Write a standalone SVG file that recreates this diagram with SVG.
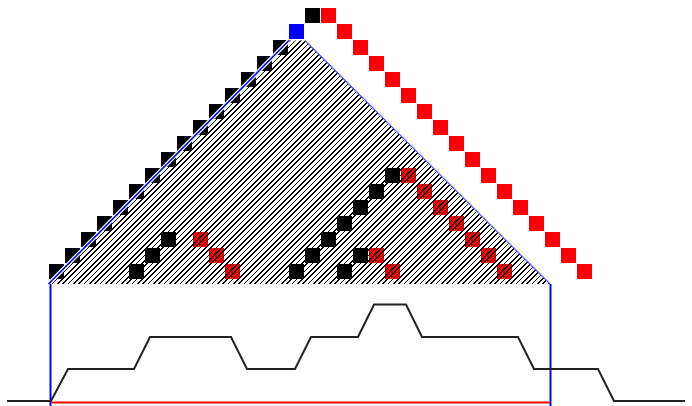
<svg xmlns="http://www.w3.org/2000/svg" width="692" height="406" viewBox="0 0 692 406">
<defs>
<pattern id="hatch" patternUnits="userSpaceOnUse" x="0" y="0" width="16" height="16">
<path d="M-16,16 L0,0 M-10.67,16 L5.33,0 M-5.33,16 L10.67,0 M0,16 L16,0 M5.33,16 L21.33,0 M10.67,16 L26.67,0" stroke="#000" stroke-width="1.1" shape-rendering="crispEdges" fill="none"/>
</pattern>
<style>
.b{fill:#000}.r{fill:#f00}.u{fill:#00f}
</style>
</defs>
<rect width="692" height="406" fill="#fff"/>
<g id="cells" transform="translate(49,8)">
<rect class="b" x="256" y="0" width="15" height="15"/>
<rect class="u" x="240" y="16" width="15" height="15"/>
<g id="red-diag">
<rect class="r" x="272" y="0" width="15" height="15"/>
<rect class="r" x="288" y="16" width="15" height="15"/>
<rect class="r" x="304" y="32" width="15" height="15"/>
<rect class="r" x="320" y="48" width="15" height="15"/>
<rect class="r" x="336" y="64" width="15" height="15"/>
<rect class="r" x="352" y="80" width="15" height="15"/>
<rect class="r" x="368" y="96" width="15" height="15"/>
<rect class="r" x="384" y="112" width="15" height="15"/>
<rect class="r" x="400" y="128" width="15" height="15"/>
<rect class="r" x="416" y="144" width="15" height="15"/>
<rect class="r" x="432" y="160" width="15" height="15"/>
<rect class="r" x="448" y="176" width="15" height="15"/>
<rect class="r" x="464" y="192" width="15" height="15"/>
<rect class="r" x="480" y="208" width="15" height="15"/>
<rect class="r" x="496" y="224" width="15" height="15"/>
<rect class="r" x="512" y="240" width="15" height="15"/>
<rect class="r" x="528" y="256" width="15" height="15"/>
</g>
<g id="black-diag">
<rect class="b" x="224" y="32" width="15" height="15"/>
<rect class="b" x="208" y="48" width="15" height="15"/>
<rect class="b" x="192" y="64" width="15" height="15"/>
<rect class="b" x="176" y="80" width="15" height="15"/>
<rect class="b" x="160" y="96" width="15" height="15"/>
<rect class="b" x="144" y="112" width="15" height="15"/>
<rect class="b" x="128" y="128" width="15" height="15"/>
<rect class="b" x="112" y="144" width="15" height="15"/>
<rect class="b" x="96" y="160" width="15" height="15"/>
<rect class="b" x="80" y="176" width="15" height="15"/>
<rect class="b" x="64" y="192" width="15" height="15"/>
<rect class="b" x="48" y="208" width="15" height="15"/>
<rect class="b" x="32" y="224" width="15" height="15"/>
<rect class="b" x="16" y="240" width="15" height="15"/>
<rect class="b" x="0" y="256" width="15" height="15"/>
</g>
<g id="inner-left">
<rect class="b" x="80" y="256" width="15" height="15"/>
<rect class="b" x="96" y="240" width="15" height="15"/>
<rect class="b" x="112" y="224" width="15" height="15"/>
<rect class="r" x="144" y="224" width="15" height="15"/>
<rect class="r" x="160" y="240" width="15" height="15"/>
<rect class="r" x="176" y="256" width="15" height="15"/>
</g>
<g id="inner-right">
<rect class="b" x="240" y="256" width="15" height="15"/>
<rect class="b" x="256" y="240" width="15" height="15"/>
<rect class="b" x="272" y="224" width="15" height="15"/>
<rect class="b" x="288" y="208" width="15" height="15"/>
<rect class="b" x="304" y="192" width="15" height="15"/>
<rect class="b" x="320" y="176" width="15" height="15"/>
<rect class="b" x="336" y="160" width="15" height="15"/>
<rect class="r" x="352" y="160" width="15" height="15"/>
<rect class="r" x="368" y="176" width="15" height="15"/>
<rect class="r" x="384" y="192" width="15" height="15"/>
<rect class="r" x="400" y="208" width="15" height="15"/>
<rect class="r" x="416" y="224" width="15" height="15"/>
<rect class="r" x="432" y="240" width="15" height="15"/>
<rect class="r" x="448" y="256" width="15" height="15"/>
<rect class="b" x="288" y="256" width="15" height="15"/>
<rect class="b" x="304" y="240" width="15" height="15"/>
<rect class="r" x="320" y="240" width="15" height="15"/>
<rect class="r" x="336" y="256" width="15" height="15"/>
</g>
</g>
<g id="triangle">
<polygon points="289,40.5 305,40.5 550,284 48.5,284" fill="url(#hatch)"/>
<line x1="289" y1="40.5" x2="48.5" y2="284" stroke="#fff" stroke-width="4"/>
<line x1="289" y1="40.5" x2="48.5" y2="284" stroke="#00f" stroke-width="1.6"/>
<line x1="305" y1="40.5" x2="550" y2="284" stroke="#55f" stroke-width="1.2"/>
</g>
<g id="connectors" fill="none">
<line x1="50.5" y1="284" x2="50.5" y2="406" stroke="#00f" stroke-width="2"/>
<line x1="550.5" y1="284" x2="550.5" y2="406" stroke="#00f" stroke-width="2"/>
<polyline points="7,401 51,401 68,369 134,369 150,337 231,337 247,369 295,369 311,337 358,337 374,304.5 406,304.5 422,337 518,337 534,369 598,369 614,401 685,401" stroke="#222" stroke-width="2"/>
<line x1="51.5" y1="402.5" x2="550" y2="402.5" stroke="#f00" stroke-width="2"/>
</g>
</svg>
